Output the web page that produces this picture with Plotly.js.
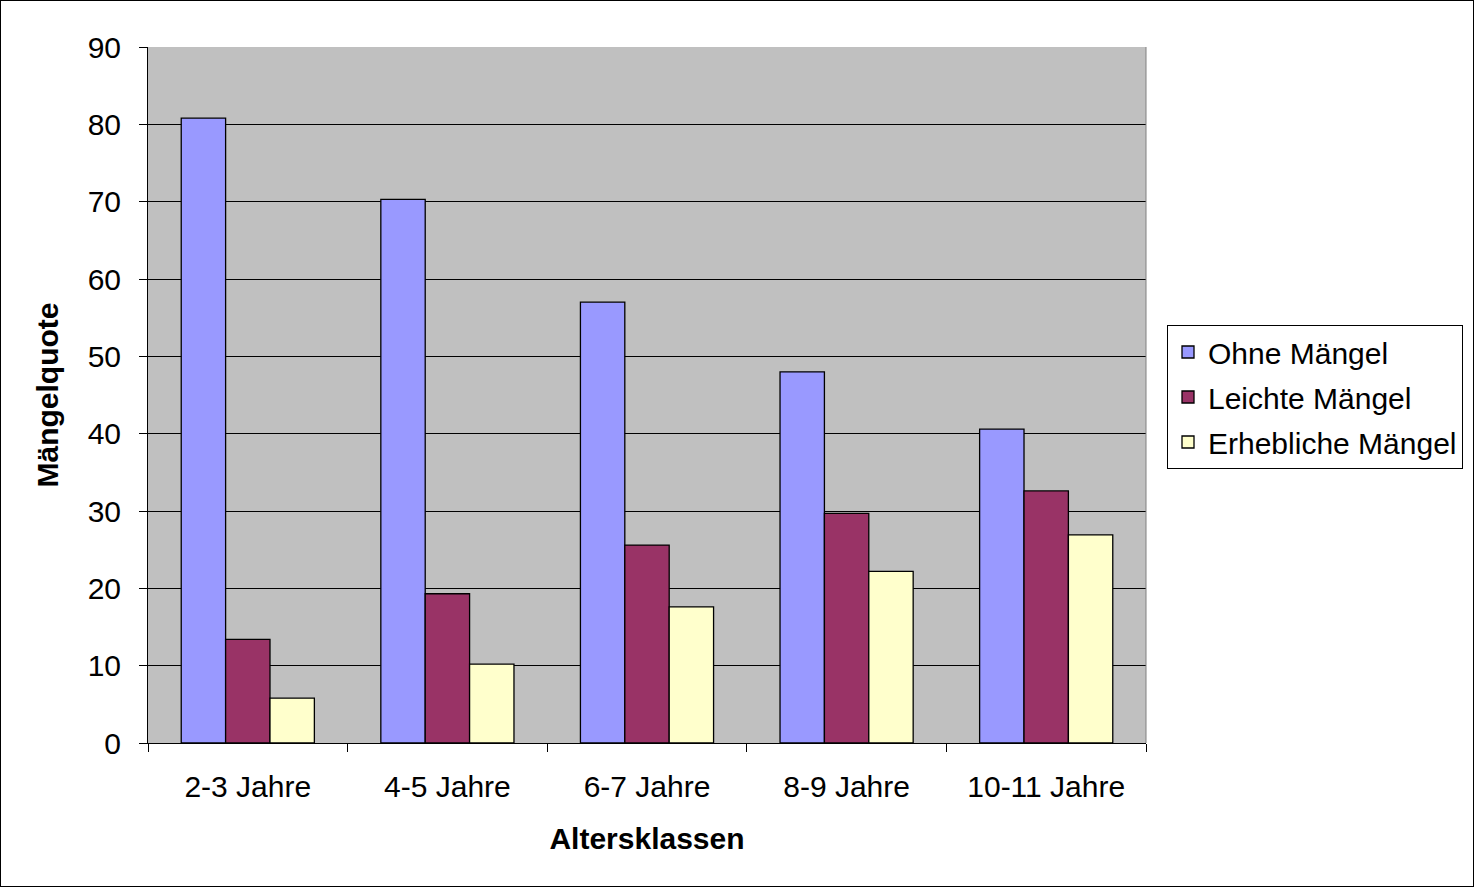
<!DOCTYPE html>
<html>
<head>
<meta charset="utf-8">
<script src="https://cdn.plot.ly/plotly-3.0.1.min.js"></script>
<style>
html,body{margin:0;padding:0;background:#fff;}
#chart{position:absolute;left:0;top:0;width:1472px;height:885px;border:1px solid #000;}
</style>
</head>
<body>
<div id="chart"></div>
<script>
const categories = ["2-3 Jahre", "4-5 Jahre", "6-7 Jahre", "8-9 Jahre", "10-11 Jahre"];
const ohneMaengel = [80.8, 70.3, 57.0, 48.0, 40.6];
const leichteMaengel = [13.4, 19.3, 25.6, 29.7, 32.6];
const erheblicheMaengel = [5.8, 10.2, 17.6, 22.2, 26.9];
const seriesNames = ["Ohne Mängel", "Leichte Mängel", "Erhebliche Mängel"];
const yTicks = [0, 10, 20, 30, 40, 50, 60, 70, 80, 90];

const colors = ["#9999FF", "#993366", "#FFFFCC"];
const seriesValues = [ohneMaengel, leichteMaengel, erheblicheMaengel];
const FONT = "Liberation Sans, Arial, sans-serif";
const FS = 30;

const data = seriesValues.map((vals, i) => ({
  type: "bar",
  name: seriesNames[i],
  legendgroup: "g" + i,
  x: categories,
  y: vals,
  marker: {color: colors[i], line: {color: "#000", width: 1.3}},
  hoverinfo: "x+y+name"
}));

const layout = {
  width: 1472,
  height: 885,
  margin: {l: 147, r: 327, t: 46, b: 143, pad: 0},
  paper_bgcolor: "#fff",
  plot_bgcolor: "#C0C0C0",
  bargap: 0.333,
  bargroupgap: 0,
  font: {family: FONT, size: FS, color: "#000"},
  xaxis: {
    type: "category",
    tickson: "boundaries",
    ticks: "outside",
    ticklen: 8,
    tickcolor: "#000",
    tickwidth: 1,
    showline: true,
    linecolor: "#000",
    linewidth: 1,
    showgrid: false,
    ticklabelstandoff: 17,
    tickfont: {family: FONT, size: FS, color: "#000"},
    title: {text: "Altersklassen", font: {family: FONT, size: FS, color: "#000", weight: "bold"}, standoff: 25}
  },
  yaxis: {
    range: [0, 90],
    tickvals: yTicks,
    ticks: "outside",
    ticklen: 8,
    tickcolor: "#000",
    tickwidth: 1,
    showline: true,
    linecolor: "#000",
    linewidth: 1,
    showgrid: true,
    gridcolor: "#000",
    gridwidth: 1,
    zeroline: false,
    ticklabelstandoff: 12,
    tickfont: {family: FONT, size: FS, color: "#000"},
    title: {text: "Mängelquote", font: {family: FONT, size: FS, color: "#000", weight: "bold"}, standoff: 20}
  },
  legend: {
    xref: "container",
    yref: "container",
    x: 1166 / 1472,
    y: 1 - 324 / 885,
    xanchor: "left",
    yanchor: "top",
    bordercolor: "#000",
    borderwidth: 1,
    bgcolor: "#fff",
    font: {family: FONT, size: FS, color: "#000"},
    itemwidth: 30,
    traceorder: "grouped",
    tracegroupgap: 3
  },
  shapes: [
    {type: "line", xref: "paper", yref: "paper", x0: 1, x1: 1, y0: 0, y1: 1, line: {color: "#808080", width: 1}}
  ],
  showlegend: true
};

Plotly.newPlot("chart", data, layout, {displayModeBar: false, staticPlot: true});
</script>
</body>
</html>
